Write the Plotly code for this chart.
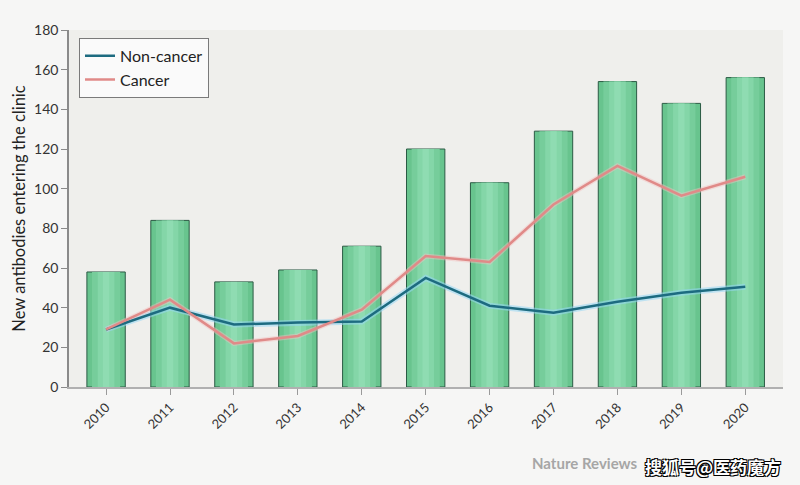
import plotly.graph_objects as go

years = ["2010", "2011", "2012", "2013", "2014", "2015", "2016", "2017", "2018", "2019", "2020"]
total_antibodies = [58, 84, 53, 59, 71, 120, 103, 129, 154, 143, 156]
non_cancer = [29, 40, 31.5, 32.5, 33, 55, 41, 37.5, 43, 47.5, 50.5]
cancer = [29, 44, 22, 25.7, 39, 66, 63, 92, 111.5, 96.5, 106]
y_ticks = [0, 20, 40, 60, 80, 100, 120, 140, 160, 180]

fig = go.Figure()

# bars with a cylinder-like shading made of overlaid bars
fig.add_trace(go.Bar(x=years, y=total_antibodies, width=0.6,
                     marker=dict(color="#68c48e", line=dict(color="#2b5a44", width=1)),
                     showlegend=False, hoverinfo="skip"))
fig.add_trace(go.Bar(x=years, y=total_antibodies, width=0.44,
                     marker=dict(color="#76cd9b", line=dict(width=0)),
                     showlegend=False, hoverinfo="skip"))
fig.add_trace(go.Bar(x=years, y=total_antibodies, width=0.26,
                     marker=dict(color="#84d6a8", line=dict(width=0)),
                     showlegend=False, hoverinfo="skip"))
fig.add_trace(go.Bar(x=years, y=total_antibodies, width=0.1,
                     marker=dict(color="#8fdcb2", line=dict(width=0)),
                     showlegend=False, hoverinfo="skip"))

# soft glows under lines
fig.add_trace(go.Scatter(x=years, y=non_cancer, mode="lines",
                         line=dict(color="rgba(150,215,245,0.55)", width=6),
                         showlegend=False, hoverinfo="skip"))
fig.add_trace(go.Scatter(x=years, y=cancer, mode="lines",
                         line=dict(color="rgba(245,190,190,0.45)", width=5),
                         showlegend=False, hoverinfo="skip"))

fig.add_trace(go.Scatter(x=years, y=non_cancer, mode="lines", name="Non-cancer",
                         line=dict(color="#1d6b80", width=2.5)))
fig.add_trace(go.Scatter(x=years, y=cancer, mode="lines", name="Cancer",
                         line=dict(color="#e08a88", width=2.5)))

fig.update_layout(
    width=800, height=485,
    barmode="overlay",
    paper_bgcolor="#f6f6f5",
    plot_bgcolor="#efefec",
    margin=dict(l=69, r=17, t=30, b=98),
    font=dict(family="Lato, 'Open Sans', sans-serif", color="#333333"),
    legend=dict(x=0.014, y=0.978, xanchor="left", yanchor="top",
                bgcolor="#fafafa", bordercolor="#7a7a7a", borderwidth=1,
                font=dict(size=16, color="#222222"), tracegroupgap=0,
                itemwidth=30),
    xaxis=dict(
        type="category",
        range=[-0.58, 10.59],
        showgrid=False, zeroline=False,
        showline=True, linecolor="#b0b0b0", linewidth=1.5,
        ticks="outside", ticklen=6, tickcolor="#9a9a9a",
        tickangle=-45, tickfont=dict(size=13, color="#333333"),
    ),
    yaxis=dict(
        range=[0, 180],
        tickvals=y_ticks,
        showgrid=False, zeroline=False,
        showline=True, linecolor="#8a8a8a", linewidth=1.5,
        ticks="outside", ticklen=6, tickcolor="#8a8a8a",
        tickfont=dict(size=14, color="#333333"),
        title=dict(text="New antibodies entering the clinic",
                   font=dict(size=16.5, color="#222222"), standoff=4),
    ),
)

fig.add_annotation(xref="paper", yref="paper", x=0.645, y=-0.213,
                   xanchor="left", yanchor="middle", showarrow=False,
                   text="<b>Nature Reviews</b>",
                   font=dict(size=15, color="#a6a6a6"))
fig.add_annotation(xref="paper", yref="paper", x=1.0, y=-0.224,
                   xanchor="right", yanchor="middle", showarrow=False,
                   text="<b>搜狐号@医药魔方</b>",
                   font=dict(size=17, color="#ffffff",
                             family="'Noto Sans CJK SC', sans-serif",
                             shadow="-1px -1px 0 #000, 1px -1px 0 #000, -1px 1px 0 #000, 1px 1px 0 #000"))

fig.write_html("out.html", config={"displayModeBar": False},
               post_script="document.body.style.margin='0';")
